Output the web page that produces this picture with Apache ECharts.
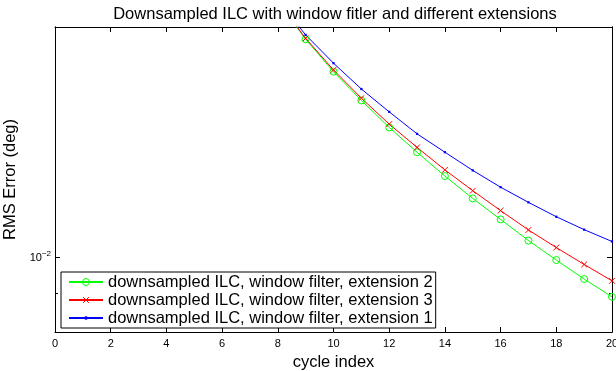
<!DOCTYPE html>
<html>
<head>
<meta charset="utf-8">
<script src="https://cdn.jsdelivr.net/npm/echarts@6/dist/echarts.min.js"></script>
<style>
html,body{margin:0;padding:0;background:#fff;}
#chart{width:616px;height:371px;}
</style>
</head>
<body>
<div id="chart"></div>
<script>
// ---- data ----
const cycles = [8, 9, 10, 11, 12, 13, 14, 15, 16, 17, 18, 19, 20];
const ext2 = [0.0216, 0.01928, 0.01749, 0.01604, 0.01479, 0.01373, 0.01278, 0.01195, 0.01122, 0.01053, 0.00993, 0.00938, 0.00889];
const ext3 = [0.0216, 0.01933, 0.01758, 0.01615, 0.01494, 0.01393, 0.01302, 0.01223, 0.01152, 0.01087, 0.01031, 0.00980, 0.00933];
const ext1 = [0.0217, 0.01953, 0.01794, 0.01660, 0.01550, 0.01451, 0.01373, 0.01300, 0.01236, 0.01181, 0.01131, 0.01088, 0.01050];
const seriesNames = [
  'downsampled ILC, window filter, extension 2',
  'downsampled ILC, window filter, extension 3',
  'downsampled ILC, window filter, extension 1'
];
const xTicks = [0, 2, 4, 6, 8, 10, 12, 14, 16, 18, 20];
const yMajorTicks = [0.01];
const yMinorTicks = [0.009];
const yRange = [0.008, 0.02];
const titleText = 'Downsampled ILC with window fitler and different extensions';
const xName = 'cycle index';
const yName = 'RMS Error (deg)';

const FONT = "'Liberation Sans', Arial, Helvetica, sans-serif";
const BIG = 16.5;
const pairs = (ys) => cycles.map((c, i) => [c, ys[i]]);

const chart = echarts.init(document.getElementById('chart'), null, {renderer: 'canvas'});

const axisLineStyle = {show: true, onZero: false, lineStyle: {color: '#000', width: 1}};

function yAxisDef(position, ticks, len, withLabel) {
  return {
    type: 'log', logBase: 10, min: yRange[0], max: yRange[1], position: position,
    axisLine: axisLineStyle,
    axisTick: {show: true, inside: true, length: len, customValues: ticks, lineStyle: {color: '#000', width: 1}},
    axisLabel: withLabel ? {
      show: true, customValues: ticks, margin: 4, color: '#000', fontFamily: FONT,
      formatter: () => '{b|10}{s|\u22122}',
      rich: {
        b: {fontSize: 11, fontFamily: FONT, color: '#000'},
        s: {fontSize: 8, fontFamily: FONT, color: '#000', padding: [0, 0, 7, 0]}
      }
    } : {show: false},
    splitLine: {show: false}, minorTick: {show: false}, minorSplitLine: {show: false},
    name: withLabel ? yName : '', nameLocation: 'middle', nameGap: 32,
    nameTextStyle: {fontSize: BIG, fontFamily: FONT, color: '#000'}
  };
}

const option = {
  animation: false,
  backgroundColor: '#fff',
  title: {
    text: titleText, left: 330, top: 1, textAlign: 'center',
    textStyle: {fontSize: BIG, fontWeight: 'normal', fontFamily: FONT, color: '#000'}
  },
  grid: {left: 55, right: 4, top: 27, bottom: 39, containLabel: false, outerBoundsMode: 'none'},
  legend: {
    orient: 'vertical', left: 61, top: 272,
    padding: [1, 3, 1, 7], itemGap: 0, itemWidth: 34, itemHeight: 8.75,
    backgroundColor: '#fff', borderColor: '#000', borderWidth: 1,
    textStyle: {fontSize: BIG, fontFamily: FONT, color: '#000', lineHeight: 18},
    itemStyle: {borderWidth: 1},
    data: seriesNames
  },
  xAxis: [
    {
      type: 'value', min: 0, max: 20, interval: 2, position: 'bottom',
      axisLine: axisLineStyle,
      axisTick: {show: true, inside: true, length: 5, lineStyle: {color: '#000'}},
      axisLabel: {show: true, margin: 6, color: '#000', fontSize: 11, fontFamily: FONT, showMinLabel: true, showMaxLabel: true},
      splitLine: {show: false},
      name: xName, nameLocation: 'middle', nameGap: 18,
      nameTextStyle: {fontSize: BIG, fontFamily: FONT, color: '#000'}
    },
    {
      type: 'value', min: 0, max: 20, interval: 2, position: 'top',
      axisLine: axisLineStyle,
      axisTick: {show: true, inside: true, length: 5, lineStyle: {color: '#000'}},
      axisLabel: {show: false}, splitLine: {show: false}
    }
  ],
  yAxis: [
    yAxisDef('left', yMajorTicks, 5, true),
    yAxisDef('right', yMajorTicks, 5, false),
    yAxisDef('left', yMinorTicks, 3, false),
    yAxisDef('right', yMinorTicks, 3, false)
  ],
  series: [
    {
      name: seriesNames[0], type: 'line', xAxisIndex: 0, yAxisIndex: 0,
      data: pairs(ext2), clip: true,
      symbol: 'circle', symbolSize: 7,
      lineStyle: {color: '#00ff00', width: 1},
      itemStyle: {color: 'rgba(0,0,0,0)', borderColor: '#00ff00', borderWidth: 1},
      emphasis: {disabled: true}
    },
    {
      name: seriesNames[1], type: 'line', xAxisIndex: 0, yAxisIndex: 0,
      data: pairs(ext3), clip: true,
      symbol: 'path://M-1,-1M11,11M0,0L10,10M10,0L0,10', symbolSize: 7,
      lineStyle: {color: '#ff0000', width: 1},
      itemStyle: {color: '#ff0000', borderColor: '#ff0000', borderWidth: 1},
      emphasis: {disabled: true}
    },
    {
      name: seriesNames[2], type: 'line', xAxisIndex: 0, yAxisIndex: 0,
      data: pairs(ext1), clip: true,
      symbol: 'path://M0,0M10,10M3.4,3.4h3.2v3.2h-3.2z', symbolSize: 7,
      lineStyle: {color: '#0000ff', width: 1},
      itemStyle: {color: '#0000ff', borderColor: '#0000ff', borderWidth: 0},
      emphasis: {disabled: true}
    }
  ]
};
chart.setOption(option);
</script>
</body>
</html>
